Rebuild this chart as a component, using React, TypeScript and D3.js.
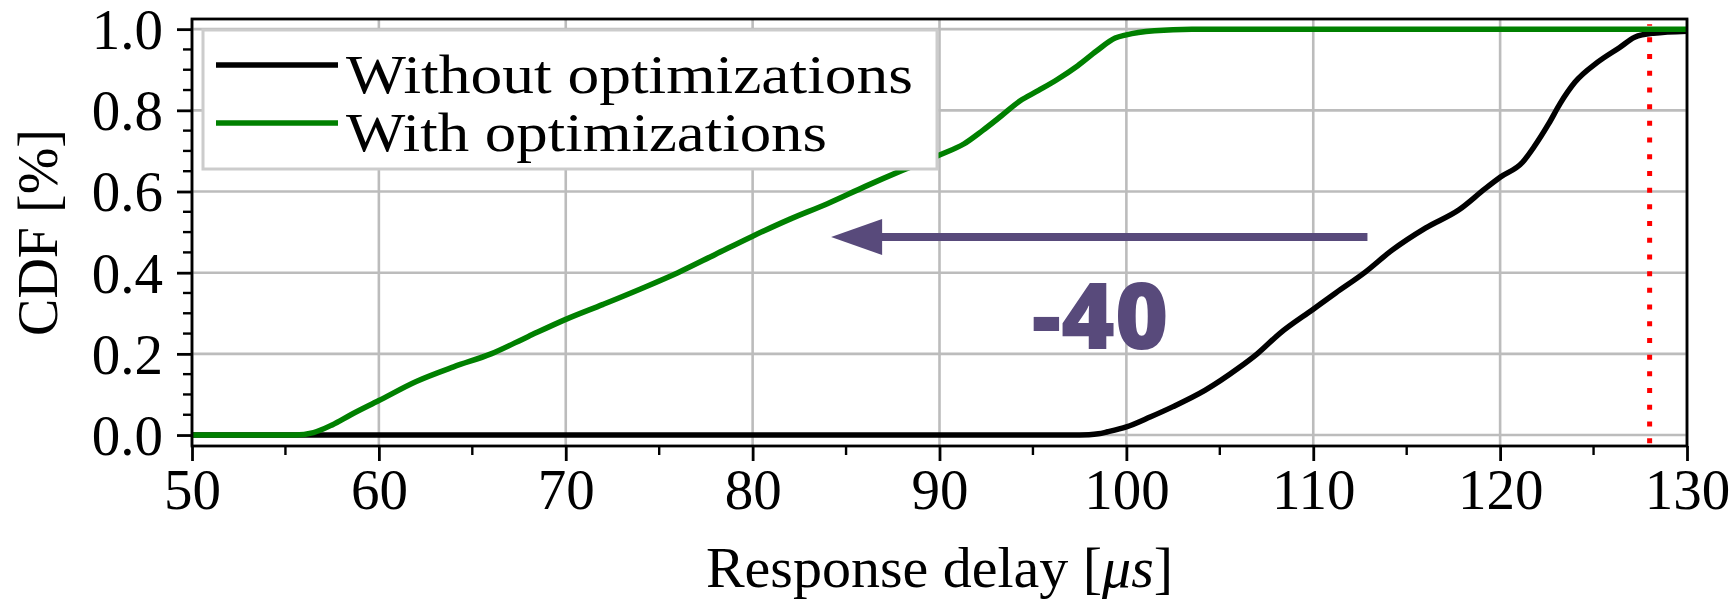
import React, { useEffect, useRef } from 'react';
import * as d3 from 'd3';

const width = 1733;
const height = 601;
const margin = { top: 19, right: 46, bottom: 155, left: 192 };

// CDF without optimizations (response delay in us, cumulative fraction)
const noOptX = [50, 97, 98, 98.5, 99, 100, 101.3, 102.5, 104.2, 106, 107, 108.2, 110, 111.2, 112.8, 114.2, 116, 117.8, 119.2, 120, 121.2, 121.8, 122.6, 123.2, 124, 125.2, 126.4, 127.2, 128.2, 130];
const noOptY = [0, 0, 0.001, 0.003, 0.008, 0.02, 0.045, 0.07, 0.11, 0.165, 0.2, 0.25, 0.31, 0.35, 0.402, 0.455, 0.51, 0.555, 0.607, 0.635, 0.672, 0.709, 0.767, 0.816, 0.869, 0.918, 0.955, 0.98, 0.99, 0.995];

// CDF with optimizations
const optX = [50, 55.5, 56.5, 57.5, 58.5, 60, 62, 64, 66, 68, 70, 72, 74, 76, 78, 80, 82, 84, 86, 88, 90, 91.3, 92.3, 93.3, 94.3, 95.3, 96.3, 97.4, 98.4, 99.4, 100, 101.5, 103.5, 130];
const optY = [0, 0, 0.006, 0.025, 0.05, 0.085, 0.132, 0.168, 0.2, 0.243, 0.285, 0.322, 0.36, 0.4, 0.445, 0.49, 0.532, 0.57, 0.612, 0.652, 0.69, 0.717, 0.75, 0.786, 0.823, 0.849, 0.876, 0.91, 0.946, 0.978, 0.986, 0.996, 1.0, 1.0];

const xTicks = [50, 60, 70, 80, 90, 100, 110, 120, 130];
const yTicks = [0, 0.2, 0.4, 0.6, 0.8, 1.0];
const legendLabels = ['Without optimizations', 'With optimizations'];
const legendWidths = [567, 481];

// annotations
const deadline = 128;
const arrowFrom = [112.9, 0.488];
const arrowTo = [84.2, 0.488];
const gainLabel = '-40';
const gainPos = [98.6, 0.212];

const serif = '"Liberation Serif", "Times New Roman", serif';
const purple = '#584a7b';

export default function App() {
  const ref = useRef(null);

  useEffect(() => {
    const svg = d3.select(ref.current);
    svg.selectAll('*').remove();

    const x = d3.scaleLinear().domain([50, 130]).range([margin.left, width - margin.right]);
    const y = d3.scaleLinear().domain([-0.027, 1.025]).range([height - margin.bottom, margin.top]);
    const [x0, x1] = x.range();
    const [y0, y1] = y.range();

    svg.append('clipPath').attr('id', 'plot').append('rect')
      .attr('x', x0).attr('y', y1).attr('width', x1 - x0).attr('height', y0 - y1);

    // grid
    const grid = svg.append('g').attr('stroke', '#bcbcbc').attr('stroke-width', 2.6);
    grid.selectAll('.gx').data(xTicks).join('line')
      .attr('x1', d => x(d)).attr('x2', d => x(d)).attr('y1', y0).attr('y2', y1);
    grid.selectAll('.gy').data(yTicks).join('line')
      .attr('y1', d => y(d)).attr('y2', d => y(d)).attr('x1', x0).attr('x2', x1);

    // curves
    const line = d3.line().x(d => x(d[0])).y(d => y(d[1])).curve(d3.curveMonotoneX);
    const plot = svg.append('g').attr('clip-path', 'url(#plot)');
    plot.append('path').datum(d3.zip(noOptX, noOptY)).attr('d', line)
      .attr('fill', 'none').attr('stroke', '#000').attr('stroke-width', 5.5);
    plot.append('path').datum(d3.zip(optX, optY)).attr('d', line)
      .attr('fill', 'none').attr('stroke', '#008000').attr('stroke-width', 5.5);

    // deadline
    plot.append('line')
      .attr('x1', x(deadline)).attr('x2', x(deadline)).attr('y1', y(-0.02)).attr('y2', y(1.012))
      .attr('stroke', '#ff0000').attr('stroke-width', 5).attr('stroke-dasharray', '5 11.7');

    // axes
    const xAxis = d3.axisBottom(x).tickValues(xTicks).tickSize(15).tickPadding(10).tickFormat(d3.format('d'));
    const gx = svg.append('g').attr('transform', `translate(0,${y0})`).call(xAxis);
    const yAxis = d3.axisLeft(y).tickValues(yTicks).tickSize(15).tickPadding(14).tickFormat(d3.format('.1f'));
    const gy = svg.append('g').attr('transform', `translate(${x0},0)`).call(yAxis);
    [gx, gy].forEach(g => {
      g.select('.domain').remove();
      g.selectAll('line').attr('stroke', '#000').attr('stroke-width', 2.8);
      g.selectAll('text').attr('font-family', serif).attr('font-size', 57).attr('fill', '#000');
    });
    gy.selectAll('text').attr('dy', '0.34em');
    gx.selectAll('text').attr('dy', '0.66em');

    // minor ticks
    const minor = svg.append('g').attr('stroke', '#000').attr('stroke-width', 2.4);
    minor.selectAll('.mx').data(d3.range(55, 130, 10)).join('line')
      .attr('x1', d => x(d)).attr('x2', d => x(d)).attr('y1', y0).attr('y2', y0 + 9);
    minor.selectAll('.my').data(d3.range(0, 1.0001, 0.05).filter(v => Math.round(v * 100) % 20 !== 0)).join('line')
      .attr('y1', d => y(d)).attr('y2', d => y(d)).attr('x1', x0).attr('x2', x0 - 9);

    // frame
    svg.append('rect').attr('x', x0).attr('y', y1).attr('width', x1 - x0).attr('height', y0 - y1)
      .attr('fill', 'none').attr('stroke', '#000').attr('stroke-width', 2.8);

    // axis labels
    svg.append('text').attr('x', (x0 + x1) / 2).attr('y', 587).attr('text-anchor', 'middle')
      .attr('font-family', serif).attr('font-size', 58)
      .call(t => {
        t.append('tspan').text('Response delay [');
        t.append('tspan').attr('font-style', 'italic').text('μs');
        t.append('tspan').text(']');
      });
    svg.append('text').attr('transform', `translate(57,${(y0 + y1) / 2}) rotate(-90)`)
      .attr('text-anchor', 'middle').attr('font-family', serif).attr('font-size', 56)
      .text('CDF [%]');

    // legend
    const lg = svg.append('g');
    lg.append('rect').attr('x', 203).attr('y', 30).attr('width', 734).attr('height', 139)
      .attr('fill', '#fff').attr('stroke', '#cccccc').attr('stroke-width', 3);
    const colors = ['#000', '#008000'];
    legendLabels.forEach((label, i) => {
      const cy = 65 + i * 58;
      lg.append('line').attr('x1', 216).attr('x2', 338).attr('y1', cy).attr('y2', cy)
        .attr('stroke', colors[i]).attr('stroke-width', 5.5);
      lg.append('text').attr('x', 346).attr('y', cy + 28)
        .attr('font-family', serif).attr('font-size', 55)
        .attr('textLength', legendWidths[i]).attr('lengthAdjust', 'spacingAndGlyphs')
        .text(label);
    });

    // arrow annotation
    const ax0 = x(arrowFrom[0]);
    const ax1 = x(arrowTo[0]);
    const ay = y(arrowFrom[1]);
    const headLen = 51;
    const headHalf = 18;
    svg.append('line').attr('x1', ax0).attr('x2', ax1 + headLen - 2).attr('y1', ay).attr('y2', ay)
      .attr('stroke', purple).attr('stroke-width', 8);
    svg.append('path')
      .attr('d', `M${ax1},${ay}L${ax1 + headLen},${ay - headHalf}L${ax1 + headLen},${ay + headHalf}Z`)
      .attr('fill', purple);
    svg.append('text').attr('x', x(gainPos[0])).attr('y', y(gainPos[1])).attr('text-anchor', 'middle')
      .attr('font-family', '"Open Sans", "Noto Sans", sans-serif').attr('font-weight', 800)
      .attr('font-size', 92).attr('fill', purple).text(gainLabel);
  }, []);

  return (
    <div style={{ position: 'absolute', left: 0, top: 0 }}>
      <svg width={width} height={height} ref={ref} style={{ display: 'block', background: '#fff' }} />
    </div>
  );
}
